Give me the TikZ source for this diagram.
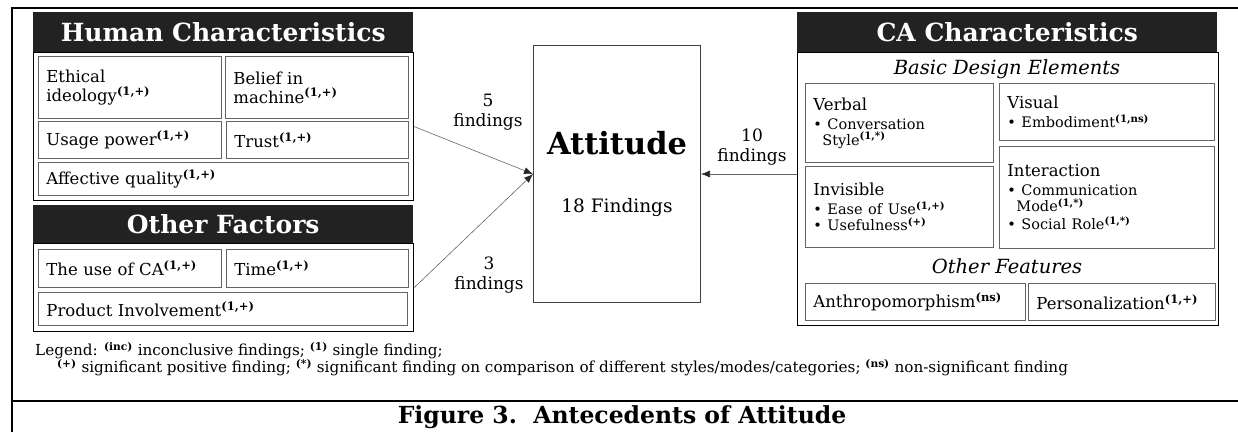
\documentclass[tikz,border=0pt]{standalone}
\usepackage{fontspec}
\setmainfont{DejaVu Serif}
\usepackage{xcolor}
\definecolor{headfill}{RGB}{34,34,34}
\definecolor{cellline}{RGB}{100,100,100}
\newcommand{\fnd}[1]{\textsuperscript{\bfseries(#1)}}
\newcommand{\cellfont}{\fontsize{16.5}{19}\selectfont\lineskiplimit=-8pt}
\newcommand{\itemfont}{\fontsize{14.5}{16}\selectfont\lineskiplimit=-8pt}
\newcommand{\legendfont}{\fontsize{15.2}{17}\selectfont\lineskiplimit=-10pt}
\usepackage{tikz}
\usetikzlibrary{arrows.meta}
\usetikzlibrary{positioning}
\tikzset{
  headbar/.style 2 args={anchor=north west, inner sep=0pt, fill=headfill,
    text=white, font=\bfseries\fontsize{25}{28}\selectfont,
    minimum width=#1, minimum height=#2},
  framebox/.style 2 args={anchor=north west, draw=black, line width=1.2pt,
    inner sep=0pt, minimum width=#1, minimum height=#2},
  cellbox/.style 2 args={anchor=north west, draw=cellline, line width=0.8pt,
    inner xsep=8pt, inner ysep=2pt, align=left, font=\cellfont,
    minimum width=#1, minimum height=#2, text width=#1-16pt},
  flow/.style={draw=black!60, line width=0.6pt,
    -{Latex[length=9pt, width=7pt, fill=black!85, color=black!85]}},
  count/.style={align=center, inner sep=0pt, font=\fontsize{17}{20}\selectfont},
  subhead/.style={inner sep=0pt, font=\itshape\fontsize{19.5}{22}\selectfont}
}

\begin{document}
\begin{tikzpicture}[x=1pt, y=-1pt] % Attitude

      \useasboundingbox (0, 0) rectangle (1238, 432);

      \draw [line width=1.6pt] (12, 432) -- (12, 8) -- (1238, 8);
      \draw [line width=1.6pt] (12, 401) -- (1238, 401);

      % human side
      \node (hchead) [headbar={380}{40}] at (33, 12) {Human Characteristics};
      \node (hcframe) [framebox={380}{148}] at (33, 52) {};
      \node (ethic) [cellbox={183}{62}] at (38, 56) {Ethical\\ideology\fnd{1,+}};
      \node (belief) [cellbox={183}{62}] at (225, 56) {Belief in\\machine\fnd{1,+}};
      \node (usage) [cellbox={183}{37}] at (38, 121) {Usage power\fnd{1,+}};
      \node (trust) [cellbox={182}{37}] at (226, 121) {Trust\fnd{1,+}};
      \node (affect) [cellbox={370}{33}] at (38, 162) {Affective quality\fnd{1,+}};

      \node (ofhead) [headbar={380}{38}] at (33, 205) {Other Factors};
      \node (offrame) [framebox={380}{88}] at (33, 243) {};
      \node (useca) [cellbox={183}{38}] at (38, 249) {The use of CA\fnd{1,+}};
      \node (time) [cellbox={182}{38}] at (226, 249) {Time\fnd{1,+}};
      \node (prod) [cellbox={369}{33}] at (38, 292) {Product Involvement\fnd{1,+}};

      \node (att) [anchor=north west, draw=black!75, line width=1pt, align=center,
        minimum width=167, minimum height=257] at (533, 45)
        {{\bfseries\fontsize{30.5}{32}\selectfont Attitude}\\[43pt]
        {\fontsize{18.5}{20}\selectfont 18 Findings}};

      % CA side
      \node (cahead) [headbar={420}{40}] at (797, 12) {CA Characteristics};
      \node (caframe) [framebox={421}{273}] at (797, 52) {};
      \node (bde) [subhead] at (1007, 69) {Basic Design Elements};
      \node (verbal) [cellbox={188}{79}] at (805, 83)
        {Verbal\\[3pt]{\itemfont\textbullet\ Conversation\\\hspace*{9pt}Style\fnd{1,*}\par}\vspace*{4pt}};
      \node (visual) [cellbox={215}{57}] at (999, 83)
        {Visual\\[3pt]{\itemfont\textbullet\ Embodiment\fnd{1,ns}\par}};
      \node (interact) [cellbox={215}{102}] at (999, 146)
        {Interaction\\[3pt]{\itemfont\textbullet\ Communication\\\hspace*{9pt}Mode\fnd{1,*}\\[2pt]\textbullet\ Social Role\fnd{1,*}\par}};
      \node (invis) [cellbox={188}{81}] at (805, 166)
        {Invisible\\[3pt]{\itemfont\textbullet\ Ease of Use\fnd{1,+}\\\textbullet\ Usefulness\fnd{+}\par}};
      \node (ofeat) [subhead] at (1007, 266) {Other Features};
      \node (anthro) [cellbox={220}{37}] at (805, 283) {Anthropomorphism\fnd{ns}};
      \node (person) [cellbox={187}{37}] at (1028, 283) {Personalization\fnd{1,+}};

      \draw [flow] (hcframe.east) -- (att.west);
      \draw [flow] (offrame.east) -- (att.west);
      \draw [flow] (att.east -| caframe.west) -- (att.east);

      \node (nhc) [count] at (488, 112) {5\\findings};
      \node (nof) [count] at (489, 275) {3\\findings};
      \node (nca) [count] at (752, 147) {10\\findings};

      \node (legend) [anchor=north west, align=left, inner sep=0pt,
        font=\legendfont] at (35, 342)
        {Legend: \fnd{inc} inconclusive findings; \fnd{1} single finding;\\
        \hspace*{22pt}\fnd{+} significant positive finding; \fnd{*} significant finding on comparison of different styles/modes/categories; \fnd{ns} non-significant finding};

      \node (caption) [font=\bfseries\fontsize{23.5}{26}\selectfont] at (622, 417)
        {Figure 3.\ \ Antecedents of Attitude};

    \end{tikzpicture}
\end{document}
